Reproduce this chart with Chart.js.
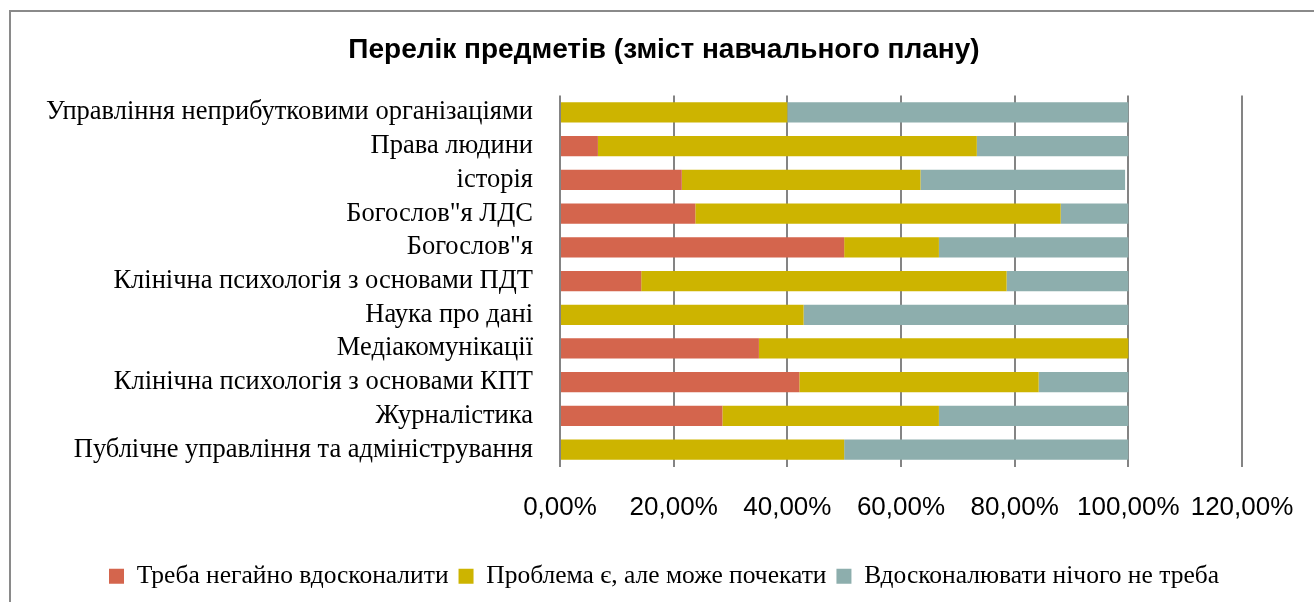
<!DOCTYPE html>
<html>
<head>
<meta charset="utf-8">
<script src="https://cdn.jsdelivr.net/npm/chart.js@4"></script>
<style>
  html, body { margin: 0; padding: 0; background: #fff; }
  #wrap { position: absolute; left: 0; top: 0; width: 1314px; height: 602px; }
</style>
</head>
<body>
<div id="wrap"><canvas id="myChart" width="1314" height="602"></canvas></div>
<script>
var subjects = [
  'Управління неприбутковими організаціями',
  'Права людини',
  'історія',
  'Богослов"я ЛДС',
  'Богослов"я',
  'Клінічна психологія з основами ПДТ',
  'Наука про дані',
  'Медіакомунікації',
  'Клінічна психологія з основами КПТ',
  'Журналістика',
  'Публічне управління та адміністрування'
];
var urgent  = [0, 6.67, 21.43, 23.81, 50, 14.29, 0, 35, 42.11, 28.57, 0];
var canWait = [40, 66.67, 42.0, 64.29, 16.67, 64.29, 42.86, 65, 42.11, 38.1, 50];
var noNeed  = [60, 26.67, 36.0, 11.9, 33.33, 21.43, 57.14, 0, 15.79, 33.33, 50];
var seriesNames = ['Треба негайно вдосконалити', 'Проблема є, але може почекати', 'Вдосконалювати нічого не треба'];
var xTicks = [0, 20, 40, 60, 80, 100, 120];

var frame = {
  id: 'frame',
  beforeDraw: function(chart) {
    // long category labels spill left of the axis box, don't clip them
    chart.scales.y._computeLabelArea = function() { return undefined; };
    var c = chart.ctx;
    c.save();
    c.strokeStyle = '#8a8a8a';
    c.lineWidth = 2;
    c.beginPath();
    c.moveTo(1314, 11);
    c.lineTo(10, 11);
    c.lineTo(10, 602);
    c.stroke();
    c.restore();
  }
};

var ctx = document.getElementById('myChart').getContext('2d');
var myChart = new Chart(ctx, {
  type: 'bar',
  data: {
    labels: subjects,
    datasets: [
      { label: seriesNames[0], data: urgent,  backgroundColor: '#d4654d' },
      { label: seriesNames[1], data: canWait, backgroundColor: '#cdb400' },
      { label: seriesNames[2], data: noNeed,  backgroundColor: '#8daead' }
    ]
  },
  plugins: [frame],
  options: {
    indexAxis: 'y',
    responsive: false,
    animation: false,
    // wide left padding so title and legend centre where the original does
    layout: { padding: { left: 86, right: 72, top: 12, bottom: 3 } },
    datasets: { bar: { barPercentage: 0.6, categoryPercentage: 1, borderWidth: 0 } },
    plugins: {
      title: {
        display: true,
        text: 'Перелік предметів (зміст навчального плану)',
        color: '#000',
        font: { family: '"Liberation Sans", Arial', size: 28, weight: 'bold' },
        padding: { top: 21, bottom: 29 }
      },
      legend: {
        position: 'bottom',
        labels: {
          color: '#000',
          font: { family: '"Liberation Serif", "Times New Roman"', size: 25.5 },
          boxWidth: 15,
          boxHeight: 15,
          padding: 10
        }
      },
      tooltip: { enabled: false }
    },
    scales: {
      x: {
        stacked: true,
        min: 0,
        max: 120,
        afterBuildTicks: function(axis) {
          axis.ticks = xTicks.map(function(v) { return { value: v }; });
        },
        grid: { color: '#848484', lineWidth: 2, drawTicks: false },
        border: { display: false },
        ticks: {
          color: '#000',
          padding: 26,
          font: { family: '"Liberation Sans", Arial', size: 26 },
          callback: function(v) { return v.toFixed(2).replace('.', ',') + '%'; }
        },
        afterFit: function(axis) {
          axis.height = 87;
          axis.paddingRight = 0;
          axis.paddingLeft = 0;
        }
      },
      y: {
        stacked: true,
        grid: { display: false, drawTicks: false },
        border: { display: false },
        ticks: {
          color: '#000',
          padding: 27,
          autoSkip: false,
          font: { family: '"Liberation Serif", "Times New Roman"', size: 26.5 }
        },
        afterFit: function(axis) { axis.width = 474; }
      }
    }
  }
});
</script>
</body>
</html>
